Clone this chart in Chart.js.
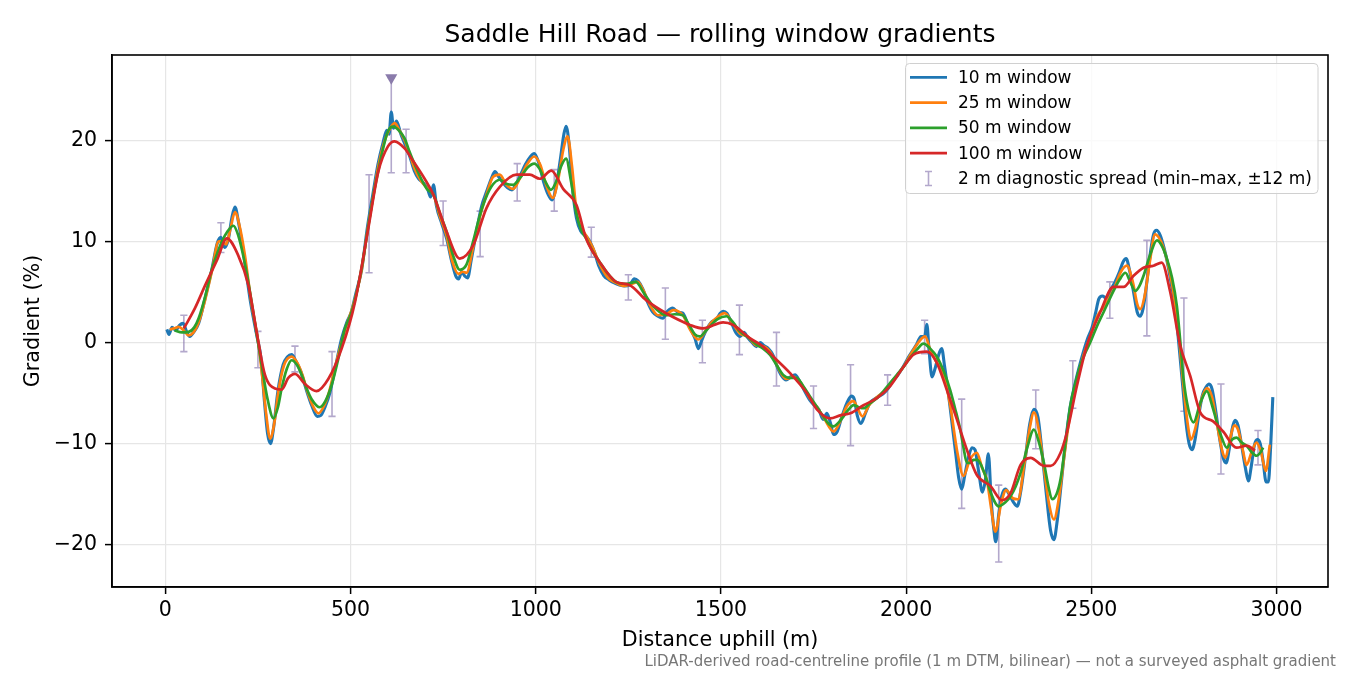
<!DOCTYPE html>
<html>
<head>
<meta charset="utf-8">
<script src="https://cdn.jsdelivr.net/npm/chart.js@4.4.1/dist/chart.umd.min.js"></script>
<style>
  html, body { margin: 0; padding: 0; background: #fff; }
  #wrap { width: 1350px; height: 675px; position: relative; }
</style>
</head>
<body>
<div id="wrap"><canvas id="grad"></canvas></div>
<script>
// distance (m), gradient (%) for each rolling window
const win10 = [[4,1.3],[10,0.8],[18,1.5],[28,1.2],[38,1.7],[48,1.9],[58,1.0],[66,0.6],[76,1.0],[90,1.9],[108,4.5],[126,7.3],[140,9.8],[150,10.4],[160,9.4],[170,10.2],[180,12.4],[188,13.4],[198,11.8],[212,8.6],[230,4.0],[248,0.5],[258,-1.5],[268,-6.0],[276,-9.0],[284,-10.0],[292,-8.5],[304,-4.8],[318,-2.2],[330,-1.4],[341,-1.2],[352,-1.8],[366,-2.9],[380,-4.6],[396,-6.3],[410,-7.3],[420,-7.2],[432,-6.3],[444,-5.0],[460,-2.3],[476,0.4],[490,2.0],[502,3.0],[514,4.8],[530,7.2],[546,11.5],[560,14.6],[574,17.6],[588,19.8],[598,21.0],[604,20.6],[610,22.8],[616,21.2],[624,21.9],[636,20.6],[648,19.5],[660,18.4],[672,17.0],[684,16.2],[696,15.8],[708,15.2],[716,14.4],[724,15.6],[732,13.5],[746,11.8],[760,10.2],[772,8.2],[784,6.6],[792,6.3],[800,7.0],[808,6.6],[816,6.4],[826,8.2],[840,11.0],[854,13.5],[868,15.0],[880,16.2],[890,16.9],[900,16.4],[912,15.8],[924,15.3],[936,15.1],[946,15.6],[958,16.5],[972,17.6],[986,18.4],[996,18.7],[1008,17.8],[1022,15.8],[1034,14.6],[1044,14.1],[1054,15.2],[1066,18.0],[1076,20.6],[1082,21.4],[1090,19.6],[1100,15.0],[1110,12.3],[1122,11.0],[1134,10.6],[1146,10.0],[1158,9.0],[1170,7.6],[1184,6.6],[1198,6.2],[1212,5.9],[1226,5.7],[1240,5.6],[1254,5.7],[1266,6.3],[1276,6.1],[1289,5.3],[1302,4.0],[1316,3.0],[1330,2.6],[1343,2.4],[1356,3.1],[1370,3.4],[1384,3.0],[1397,2.9],[1410,1.9],[1420,1.2],[1430,0.4],[1439,-0.6],[1448,0.2],[1460,1.2],[1474,2.0],[1488,2.3],[1498,2.9],[1506,3.1],[1516,2.9],[1528,2.0],[1540,1.0],[1552,0.6],[1562,1.0],[1572,0.5],[1584,0.0],[1596,-0.4],[1606,0.0],[1616,-0.3],[1628,-0.6],[1640,-1.2],[1652,-2.4],[1664,-3.3],[1676,-3.7],[1688,-3.4],[1700,-3.2],[1712,-3.8],[1726,-4.8],[1740,-5.7],[1752,-6.2],[1764,-6.6],[1776,-7.6],[1786,-7.0],[1796,-8.0],[1804,-9.1],[1814,-8.8],[1826,-7.4],[1840,-6.0],[1852,-5.3],[1860,-5.6],[1868,-7.2],[1878,-8.0],[1890,-7.0],[1902,-6.0],[1914,-5.6],[1928,-5.3],[1940,-5.0],[1952,-4.5],[1964,-3.8],[1978,-3.2],[1992,-2.4],[2004,-1.6],[2016,-0.9],[2028,-0.2],[2040,0.6],[2050,0.6],[2056,1.8],[2062,-0.8],[2070,-3.4],[2078,-2.6],[2088,-1.2],[2096,-0.6],[2104,-2.4],[2114,-5.0],[2124,-8.0],[2134,-11.0],[2142,-13.4],[2150,-14.5],[2158,-13.2],[2168,-11.4],[2178,-10.4],[2186,-10.6],[2196,-12.8],[2206,-14.8],[2214,-13.6],[2222,-11.0],[2230,-15.8],[2236,-18.2],[2242,-19.7],[2250,-17.0],[2258,-15.2],[2268,-14.5],[2278,-15.0],[2290,-15.8],[2300,-16.2],[2310,-14.6],[2322,-11.4],[2334,-8.0],[2345,-6.6],[2356,-7.4],[2366,-10.5],[2378,-14.8],[2390,-18.6],[2399,-19.5],[2408,-17.6],[2418,-14.2],[2430,-10.0],[2442,-6.6],[2454,-4.4],[2466,-2.6],[2478,-1.0],[2490,0.4],[2502,1.5],[2512,3.0],[2520,4.3],[2530,4.6],[2540,4.4],[2552,5.2],[2564,6.0],[2576,7.0],[2586,8.0],[2594,8.3],[2604,7.0],[2614,5.0],[2624,3.0],[2632,2.6],[2640,3.4],[2650,6.0],[2660,9.0],[2668,10.7],[2676,11.1],[2686,10.6],[2696,9.4],[2706,7.8],[2716,5.8],[2726,3.6],[2736,0.0],[2746,-4.0],[2756,-8.0],[2764,-10.0],[2772,-10.6],[2780,-9.6],[2790,-7.2],[2800,-5.2],[2810,-4.4],[2818,-4.1],[2826,-4.6],[2836,-6.8],[2846,-9.4],[2856,-11.4],[2864,-11.9],[2872,-10.6],[2880,-8.6],[2888,-7.7],[2896,-8.2],[2906,-10.2],[2916,-12.4],[2924,-13.7],[2932,-12.2],[2940,-10.2],[2948,-9.6],[2956,-10.0],[2964,-11.8],[2972,-13.8],[2978,-13.8],[2984,-10.4],[2990,-5.4]];

const win25 = [[12,1.3],[24,1.4],[36,1.55],[50,1.2],[63,0.7],[76,1.0],[90,2.0],[108,4.3],[126,7.1],[144,10.0],[155,10.0],[164,9.7],[176,11.3],[188,12.9],[200,11.6],[215,8.6],[232,4.0],[251,0.0],[262,-3.5],[272,-7.0],[283,-9.5],[294,-8.0],[305,-4.9],[320,-2.3],[341,-1.4],[356,-2.0],[370,-3.2],[385,-5.0],[400,-6.4],[413,-7.0],[428,-6.3],[442,-4.9],[460,-2.2],[485,1.2],[512,4.3],[530,7.2],[548,11.6],[562,14.6],[575,17.4],[590,19.7],[604,21.0],[619,21.7],[632,21.0],[646,20.0],[660,18.6],[672,17.3],[690,16.0],[706,15.3],[724,14.6],[742,12.4],[759,10.6],[775,8.0],[791,6.8],[803,7.0],[813,6.9],[831,9.4],[849,12.4],[867,14.6],[885,16.4],[903,16.6],[921,15.6],[939,15.2],[958,16.3],[978,17.7],[996,18.4],[1012,17.6],[1030,15.4],[1046,14.3],[1060,16.0],[1074,19.0],[1086,20.4],[1098,17.4],[1110,13.0],[1124,11.3],[1136,10.6],[1154,9.4],[1172,7.8],[1195,6.4],[1217,5.9],[1240,5.6],[1260,5.8],[1275,6.0],[1290,5.2],[1310,3.6],[1330,2.7],[1352,2.8],[1372,3.2],[1397,2.7],[1418,1.2],[1439,0.3],[1456,1.0],[1472,1.9],[1490,2.5],[1510,2.9],[1530,2.0],[1551,0.9],[1572,0.6],[1596,-0.3],[1616,-0.4],[1636,-1.1],[1656,-2.6],[1676,-3.6],[1696,-3.4],[1716,-4.0],[1740,-5.5],[1760,-6.4],[1780,-7.6],[1804,-8.8],[1822,-7.8],[1840,-6.3],[1858,-5.8],[1870,-6.6],[1882,-7.3],[1900,-6.2],[1921,-5.4],[1945,-4.7],[1968,-3.6],[1993,-2.4],[2015,-1.0],[2035,0.1],[2051,0.6],[2066,-0.8],[2083,-2.0],[2100,-3.0],[2119,-6.2],[2138,-10.8],[2155,-13.2],[2172,-11.6],[2191,-10.9],[2205,-12.4],[2218,-13.6],[2230,-16.5],[2241,-18.7],[2256,-16.0],[2270,-14.6],[2288,-15.4],[2302,-15.5],[2320,-11.8],[2334,-8.4],[2345,-6.9],[2358,-8.6],[2372,-12.4],[2386,-16.0],[2399,-17.5],[2412,-15.5],[2426,-11.5],[2440,-7.8],[2455,-4.8],[2470,-2.4],[2485,-0.6],[2500,0.9],[2516,2.6],[2533,3.5],[2548,4.4],[2562,5.4],[2580,7.0],[2596,7.6],[2612,6.0],[2624,3.8],[2632,3.3],[2644,4.6],[2658,8.0],[2672,10.7],[2688,10.0],[2704,8.2],[2720,5.4],[2734,1.6],[2748,-4.0],[2760,-8.0],[2769,-9.6],[2780,-8.6],[2796,-5.8],[2812,-4.5],[2826,-5.4],[2840,-8.2],[2854,-10.8],[2862,-11.4],[2874,-9.6],[2886,-8.2],[2896,-8.6],[2910,-10.8],[2919,-12.1],[2932,-10.9],[2946,-9.9],[2958,-10.8],[2971,-12.7],[2982,-10.1]];

const win50 = [[25,1.2],[45,1.0],[63,1.05],[78,1.5],[90,2.4],[108,4.6],[126,7.3],[140,8.8],[153,10.0],[168,11.0],[184,11.55],[195,10.8],[206,9.3],[220,6.8],[233,4.0],[246,1.0],[260,-2.2],[276,-5.6],[292,-7.5],[304,-6.4],[314,-4.55],[328,-2.6],[341,-1.75],[355,-2.2],[368,-3.2],[382,-4.6],[395,-5.6],[417,-6.4],[432,-5.8],[449,-4.2],[467,-1.6],[485,1.4],[500,2.7],[512,4.2],[530,7.4],[548,11.5],[562,14.6],[575,17.0],[588,19.2],[601,20.9],[615,21.35],[630,21.0],[646,20.2],[658,19.0],[670,17.9],[688,16.4],[706,15.2],[724,14.6],[742,12.7],[759,11.0],[777,8.6],[795,7.2],[813,7.7],[831,10.0],[845,12.0],[858,13.6],[880,15.4],[903,16.1],[920,15.7],[939,15.6],[958,16.3],[978,17.3],[996,17.7],[1010,17.2],[1025,16.0],[1041,15.1],[1055,15.9],[1068,17.4],[1082,18.2],[1095,16.0],[1109,12.9],[1122,11.2],[1136,10.3],[1154,9.0],[1172,8.0],[1195,6.8],[1217,6.0],[1245,5.8],[1270,6.0],[1292,4.9],[1315,3.7],[1335,3.0],[1352,2.7],[1375,2.8],[1397,2.7],[1416,1.6],[1430,0.8],[1443,0.6],[1458,1.1],[1470,1.6],[1490,2.3],[1515,2.6],[1533,2.0],[1551,1.1],[1574,0.5],[1596,-0.2],[1614,-0.6],[1632,-1.2],[1650,-2.2],[1668,-3.2],[1686,-3.5],[1704,-3.5],[1722,-4.3],[1740,-5.3],[1758,-6.3],[1776,-7.3],[1790,-8.0],[1804,-8.3],[1818,-7.9],[1831,-7.3],[1845,-6.6],[1858,-6.2],[1872,-6.4],[1885,-6.5],[1903,-6.0],[1921,-5.5],[1939,-4.8],[1957,-4.0],[1975,-3.2],[1993,-2.4],[2011,-1.5],[2029,-0.7],[2047,-0.1],[2065,-0.6],[2083,-1.4],[2101,-2.8],[2119,-4.7],[2132,-6.5],[2146,-8.6],[2155,-10.4],[2164,-11.9],[2174,-11.9],[2182,-11.6],[2192,-11.6],[2201,-12.0],[2214,-13.2],[2228,-14.8],[2250,-16.2],[2268,-15.8],[2282,-15.2],[2296,-14.2],[2309,-12.9],[2327,-10.4],[2345,-8.6],[2358,-9.8],[2372,-11.9],[2384,-14.2],[2394,-15.5],[2406,-15.0],[2417,-13.5],[2430,-10.0],[2443,-6.3],[2457,-4.0],[2470,-2.3],[2484,-1.0],[2497,0.0],[2515,1.6],[2533,3.0],[2547,4.1],[2560,5.1],[2576,6.2],[2592,6.9],[2605,6.0],[2619,5.1],[2630,5.6],[2641,6.6],[2660,8.8],[2677,10.1],[2690,9.6],[2704,8.3],[2718,6.4],[2731,3.6],[2740,0.2],[2749,-3.6],[2762,-6.6],[2776,-7.9],[2794,-6.0],[2812,-4.8],[2826,-6.2],[2839,-7.9],[2852,-9.4],[2866,-10.4],[2880,-9.6],[2892,-9.4],[2906,-9.9],[2919,-10.2],[2932,-10.8],[2946,-11.2],[2956,-10.9],[2964,-10.4]];

const win100 = [[50,1.4],[80,3.4],[108,5.7],[140,8.2],[166,10.3],[197,8.6],[224,5.7],[251,0.1],[269,-3.2],[296,-4.55],[314,-4.65],[332,-3.5],[350,-3.1],[377,-4.1],[408,-4.8],[440,-3.6],[476,-0.6],[512,4.0],[548,11.3],[575,16.9],[601,19.4],[619,19.9],[646,19.2],[670,17.9],[700,16.2],[724,14.6],[759,11.0],[795,8.3],[831,9.6],[867,13.3],[903,15.4],[948,16.6],[984,16.6],[1011,16.2],[1042,17.0],[1074,15.2],[1110,13.6],[1136,10.3],[1172,8.0],[1217,6.0],[1253,5.7],[1298,4.2],[1352,2.9],[1397,2.05],[1416,1.74],[1452,1.4],[1506,2.0],[1533,1.74],[1578,0.43],[1614,-0.4],[1650,-1.7],[1686,-3.0],[1732,-5.0],[1759,-6.6],[1795,-7.5],[1822,-7.2],[1849,-7.0],[1885,-6.2],[1921,-5.5],[1957,-4.3],[1993,-2.4],[2020,-1.2],[2056,-0.9],[2083,-2.0],[2110,-4.7],[2137,-7.6],[2164,-10.6],[2191,-13.1],[2228,-14.2],[2259,-15.6],[2282,-14.9],[2309,-12.1],[2336,-11.4],[2372,-12.2],[2390,-12.2],[2417,-10.9],[2434,-8.9],[2461,-4.3],[2488,-0.3],[2524,3.0],[2560,5.5],[2587,5.5],[2614,6.6],[2641,7.4],[2668,7.6],[2690,7.9],[2713,5.0],[2740,-0.3],[2767,-3.3],[2794,-6.9],[2829,-7.8],[2856,-8.8],[2892,-10.4],[2919,-10.2],[2942,-10.7]];

// 2 m diagnostic spread (min..max within +/-12 m)
const spreadX  = [50, 150, 250, 350, 450, 550, 610, 650, 750, 850, 950, 1050, 1150, 1250, 1350, 1450, 1550, 1650, 1750, 1850, 1950, 2050, 2150, 2250, 2350, 2450, 2550, 2650, 2750, 2850, 2950];
const spreadLo = [-0.9, 8.9, -2.5, -2.9, -7.3, 6.9, 16.8, 16.8, 9.6, 8.5, 14.0, 13.0, 8.45, 4.2, 0.33, -2.0, -1.2, -4.3, -8.5, -10.2, -6.2, -1.1, -16.4, -21.7, -10.5, -6.5, 2.4, 0.66, -6.8, -13.0, -12.1];
const spreadHi = [2.7, 11.85, 1.1, -0.36, -0.9, 16.6, 26.2, 21.1, 14.0, 13.0, 17.7, 17.1, 11.4, 6.7, 5.4, 2.2, 3.7, 1.0, -4.3, -2.2, -3.2, 2.2, -5.6, -14.1, -4.7, -1.8, 6.0, 10.1, 4.4, -4.1, -8.7];

// steepest 2 m reading
const peakX = [610];
const peakY = [26.2];

const xTicks = [0, 500, 1000, 1500, 2000, 2500, 3000];
const yTicks = [-20, -10, 0, 10, 20];

const legendLabels = ['10 m window', '25 m window', '50 m window', '100 m window', '2 m diagnostic spread (min\u2013max, \u00b112 m)'];
const lineColors = ['#1f77b4', '#ff7f0e', '#2ca02c', '#d62728'];
const spreadColor = 'rgba(128, 110, 170, 0.6)';

const FONT = 'DejaVu Sans';
Chart.defaults.font.family = FONT;
Chart.defaults.color = '#000';

function toPts(arr) {
    return arr.map(p => ({x: p[0], y: p[1]}));
}
function minusSign(v) {
    return v < 0 ? '\u2212' + Math.abs(v) : String(v);
}

// error bars, frame, title, legend and the footnote
const decor = {
    id: 'decor',
    beforeDatasetsDraw(chart) {
        const ctx = chart.ctx, xs = chart.scales.x, ys = chart.scales.y;
        ctx.save();
        ctx.strokeStyle = spreadColor;
        ctx.lineWidth = 1.6;
        for (let i = 0; i < spreadX.length; i++) {
            const px = xs.getPixelForValue(spreadX[i]);
            const top = ys.getPixelForValue(spreadHi[i]);
            const bot = ys.getPixelForValue(spreadLo[i]);
            ctx.beginPath();
            ctx.moveTo(px, top); ctx.lineTo(px, bot);
            ctx.moveTo(px - 3.6, top); ctx.lineTo(px + 3.6, top);
            ctx.moveTo(px - 3.6, bot); ctx.lineTo(px + 3.6, bot);
            ctx.stroke();
        }
        ctx.restore();
    },
    afterDraw(chart) {
        const ctx = chart.ctx, a = chart.chartArea;
        ctx.save();
        // axes frame
        ctx.strokeStyle = '#000';
        ctx.lineWidth = 1.6;
        ctx.strokeRect(a.left, a.top, a.right - a.left, a.bottom - a.top);

        // title, centred over the plot area
        ctx.fillStyle = '#000';
        ctx.font = '25px "' + FONT + '"';
        ctx.textAlign = 'center';
        ctx.textBaseline = 'alphabetic';
        ctx.fillText('Saddle Hill Road \u2014 rolling window gradients', (a.left + a.right) / 2, 41.7);

        // legend
        const lx = 905.5, ly = 63.5, lw = 412.5, lh = 130;
        ctx.beginPath();
        ctx.roundRect(lx, ly, lw, lh, 4);
        ctx.fillStyle = 'rgba(255,255,255,0.8)';
        ctx.fill();
        ctx.strokeStyle = '#d0d0d0';
        ctx.lineWidth = 1;
        ctx.stroke();
        ctx.font = '17px "' + FONT + '"';
        ctx.textAlign = 'left';
        for (let i = 0; i < legendLabels.length; i++) {
            const y = 77.3 + i * 25.3;
            if (i < 4) {
                ctx.strokeStyle = lineColors[i];
                ctx.lineWidth = 2.7;
                ctx.beginPath();
                ctx.moveTo(910, y); ctx.lineTo(947, y);
                ctx.stroke();
            } else {
                ctx.strokeStyle = spreadColor;
                ctx.lineWidth = 1.6;
                ctx.beginPath();
                ctx.moveTo(928.5, y - 7); ctx.lineTo(928.5, y + 7);
                ctx.moveTo(925, y - 7); ctx.lineTo(932, y - 7);
                ctx.moveTo(925, y + 7); ctx.lineTo(932, y + 7);
                ctx.stroke();
            }
            ctx.fillStyle = '#000';
            ctx.fillText(legendLabels[i], 958, y + 5.3);
        }

        // footnote
        ctx.font = '15px "' + FONT + '"';
        ctx.fillStyle = '#777';
        ctx.textAlign = 'right';
        ctx.fillText('LiDAR-derived road-centreline profile (1 m DTM, bilinear) \u2014 not a surveyed asphalt gradient', 1336, 665.5);
        ctx.restore();
    }
};

const lineSet = (label, arr, color, width, order) => ({
    label: label,
    data: toPts(arr),
    borderColor: color,
    backgroundColor: color,
    borderWidth: width,
    pointRadius: 0,
    fill: false,
    cubicInterpolationMode: 'monotone',
    order: order
});

new Chart(document.getElementById('grad'), {
    type: 'line',
    data: {
        datasets: [
            lineSet(legendLabels[0], win10, lineColors[0], 3.1, 4),
            lineSet(legendLabels[1], win25, lineColors[1], 2.7, 3),
            lineSet(legendLabels[2], win50, lineColors[2], 2.7, 2),
            lineSet(legendLabels[3], win100, lineColors[3], 2.7, 1),
            {
                label: 'peak',
                data: peakX.map((x, i) => ({x: x, y: peakY[i]})),
                showLine: false,
                pointStyle: 'triangle',
                rotation: 180,
                pointRadius: 7,
                pointBackgroundColor: '#8a7bab',
                pointBorderColor: '#8a7bab',
                pointBorderWidth: 0,
                order: 0
            }
        ]
    },
    options: {
        responsive: true,
        maintainAspectRatio: false,
        animation: false,
        events: [],
        layout: { padding: { left: 0, right: 22, top: 55, bottom: 0 } },
        plugins: {
            legend: { display: false },
            tooltip: { enabled: false },
            title: { display: false }
        },
        scales: {
            x: {
                type: 'linear',
                min: -144,
                max: 3139,
                afterBuildTicks(s) { s.ticks = xTicks.map(v => ({value: v})); },
                afterFit(s) { s.height = 88; s.paddingLeft = 0; s.paddingRight = 0; },
                border: { display: true, color: '#000', width: 1.6 },
                grid: { color: '#e6e6e6', lineWidth: 1.2, tickLength: 7, tickColor: '#000', tickWidth: 1.5 },
                ticks: { maxRotation: 0, autoSkip: false, padding: 4, font: { size: 20.5 }, color: '#000', callback: v => String(v) },
                title: { display: true, text: 'Distance uphill (m)', font: { size: 20.7 }, color: '#000', padding: { top: 0, bottom: 22 } }
            },
            y: {
                type: 'linear',
                min: -24.18,
                max: 28.44,
                afterBuildTicks(s) { s.ticks = yTicks.map(v => ({value: v})); },
                afterFit(s) { s.width = 112; s.paddingTop = 0; s.paddingBottom = 0; },
                border: { display: true, color: '#000', width: 1.6 },
                grid: { color: '#e6e6e6', lineWidth: 1.2, tickLength: 7, tickColor: '#000', tickWidth: 1.5 },
                ticks: { autoSkip: false, padding: 8, font: { size: 20.5 }, color: '#000', callback: v => minusSign(v) },
                title: { display: true, text: 'Gradient (%)', font: { size: 20.7 }, color: '#000', padding: { top: 21, bottom: 0 } }
            }
        }
    },
    plugins: [decor]
});
</script>
</body>
</html>
